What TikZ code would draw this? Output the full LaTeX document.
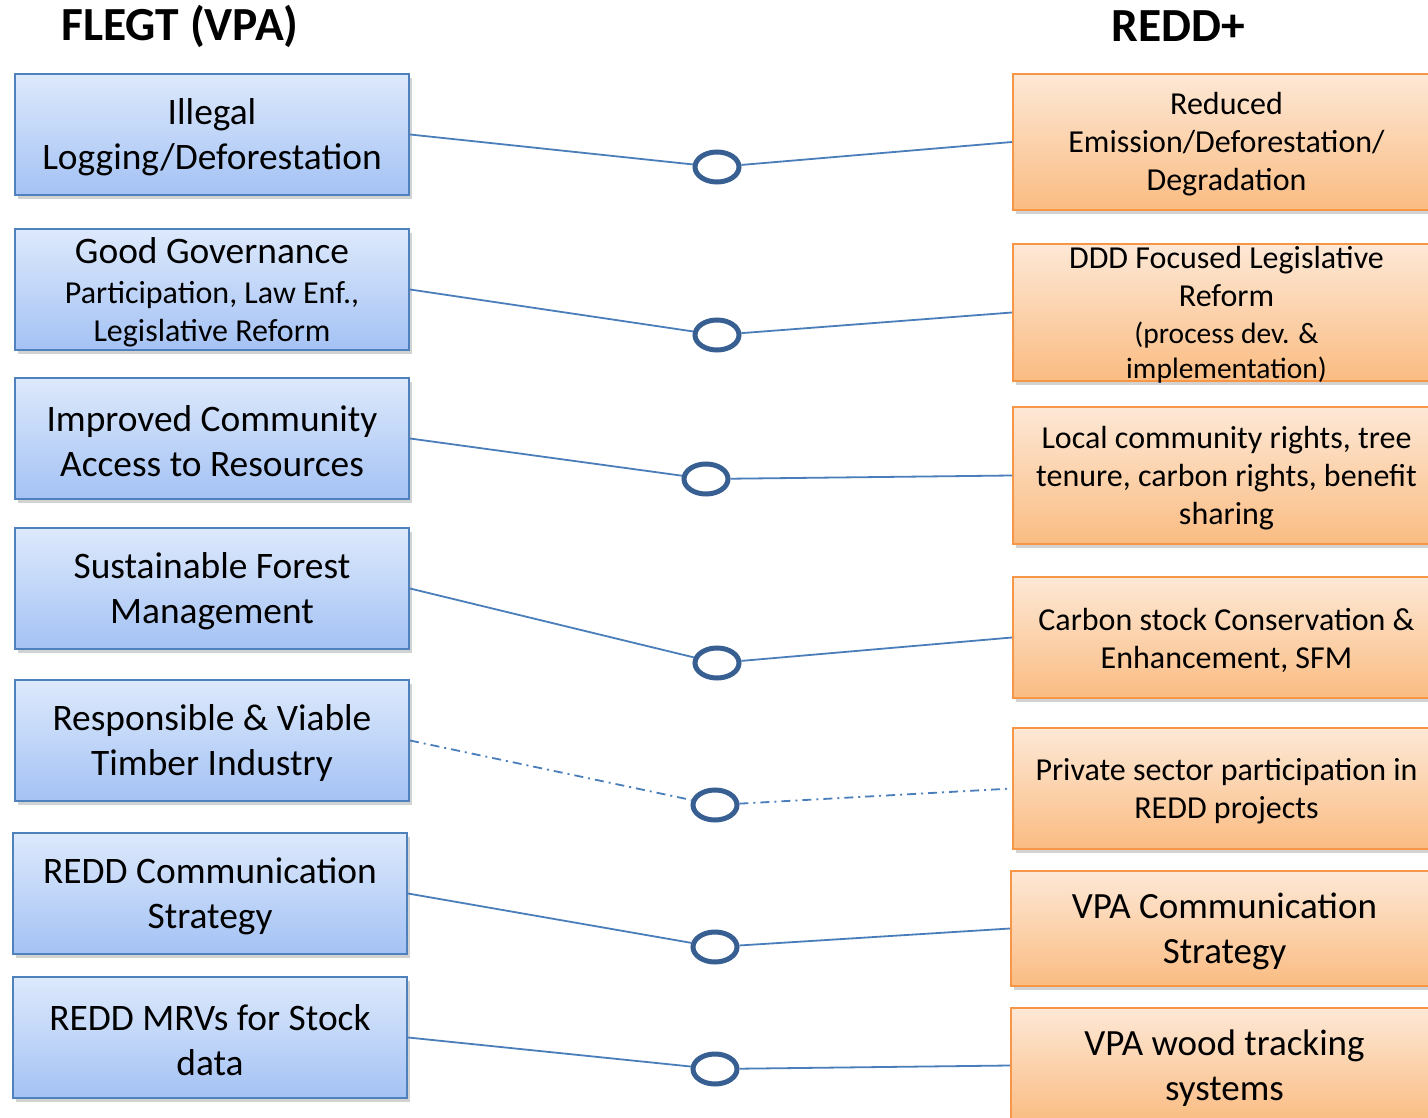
\documentclass[tikz,border=0pt]{standalone}
\usepackage{fontspec}
\setmainfont{Carlito}
\usetikzlibrary{shadows,shapes.geometric}
\definecolor{bluetop}{RGB}{221,233,252}
\definecolor{bluebot}{RGB}{164,194,244}
\definecolor{blueline}{RGB}{79,129,189}
\definecolor{orgtop}{RGB}{253,232,214}
\definecolor{orgbot}{RGB}{250,188,130}
\definecolor{orgline}{RGB}{247,150,70}
\definecolor{conn}{RGB}{74,126,187}
\definecolor{ringc}{RGB}{56,95,145}
\tikzset{
  box/.style={rectangle, anchor=north west, inner sep=0pt,
    line width=2pt, drop shadow={opacity=0.35, shadow xshift=3pt, shadow yshift=-4pt}},
  lbox/.style={box, draw=blueline, top color=bluetop, bottom color=bluebot,
    minimum width=394pt, minimum height=121pt},
  rbox/.style={box, draw=orgline, top color=orgtop, bottom color=orgbot,
    minimum width=427pt},
  ltxt/.style={align=center, inner sep=0pt, font=\fontsize{37.4}{45}\selectfont},
  rtxt/.style={align=center, inner sep=0pt, font=\fontsize{32}{38}\selectfont},
  rbig/.style={align=center, inner sep=0pt, font=\fontsize{37}{45}\selectfont},
  ring/.style={ellipse, draw=ringc, line width=5pt, fill=white, minimum width=44pt, minimum height=30pt, inner sep=0pt},
  conn/.style={draw=conn, line width=1.8pt},
  ttl/.style={font=\bfseries\fontsize{47.5}{52}\selectfont}
}
\begin{document}
\begin{tikzpicture}[x=1pt,y=-1pt]
\useasboundingbox (0,0) rectangle (1428,1118);
\fill[white] (0,0) rectangle (1428,1118);
\node[ttl] (t1) at (180,26) {FLEGT (VPA)};
\node[ttl] (t2) at (1178,26) {REDD+};
% left boxes
\node[lbox] (L1) at (14,73) {};
\node[lbox] (L2) at (14,228) {};
\node[lbox] (L3) at (14,377) {};
\node[lbox] (L4) at (14,527) {};
\node[lbox] (L5) at (14,679) {};
\node[lbox] (L6) at (12,832) {};
\node[lbox] (L7) at (12,976) {};
\node[ltxt] (L1t) at ([yshift=-3pt]L1.center) {Illegal\\Logging/Deforestation};
\node[ltxt] (L2t) at ([yshift=-3pt]L2.center) {\raisebox{-2pt}{Good Governance}\\[-3pt]{\fontsize{32}{38}\selectfont Participation, Law Enf.,}\\[-7pt]{\fontsize{32}{38}\selectfont Legislative Reform}};
\node[ltxt] (L3t) at ([yshift=-3pt]L3.center) {Improved Community\\Access to Resources};
\node[ltxt] (L4t) at ([yshift=-3pt]L4.center) {Sustainable Forest\\Management};
\node[ltxt] (L5t) at ([yshift=-3pt]L5.center) {Responsible \& Viable\\Timber Industry};
\node[ltxt] (L6t) at ([yshift=-3pt]L6.center) {REDD Communication\\Strategy};
\node[ltxt] (L7t) at ([yshift=-3pt]L7.center) {REDD MRVs for Stock\\data};
% right boxes
\node[rbox, minimum height=136pt] (R1) at (1012,73) {};
\node[rbox, minimum height=137pt] (R2) at (1012,243) {};
\node[rbox, minimum height=137pt] (R3) at (1012,406) {};
\node[rbox, minimum height=121pt] (R4) at (1012,576) {};
\node[rbox, minimum height=121pt] (R5) at (1012,727) {};
\node[rbox, minimum height=115pt] (R6) at (1010,870) {};
\node[rbox, minimum height=115pt] (R7) at (1010,1007) {};
\node[rtxt] (R1t) at ([yshift=-2.5pt]R1.center) {Reduced\\Emission/Deforestation/\\Degradation};
\node[rtxt] (R2t) at ([yshift=-2.5pt]R2.center) {DDD Focused Legislative\\Reform\\[-1pt]{\fontsize{29.5}{35}\selectfont (process dev. \&}\\[-3pt]{\fontsize{29.5}{35}\selectfont implementation)}};
\node[rtxt] (R3t) at ([yshift=-2.5pt]R3.center) {Local community rights, tree\\tenure, carbon rights, benefit\\sharing};
\node[rtxt] (R4t) at ([yshift=-2.5pt]R4.center) {Carbon stock Conservation \&\\Enhancement, SFM};
\node[rtxt] (R5t) at ([yshift=-2.5pt]R5.center) {Private sector participation in\\REDD projects};
\node[rbig] (R6t) at ([yshift=-2.5pt]R6.center) {VPA Communication\\Strategy};
\node[rbig] (R7t) at ([yshift=-2.5pt]R7.center) {VPA wood tracking\\systems};
% rings
\node[ring] (E1) at (717,167) {};
\node[ring] (E2) at (717,335) {};
\node[ring] (E3) at (706,479) {};
\node[ring] (E4) at (717,663) {};
\node[ring] (E5) at (715,805) {};
\node[ring] (E6) at (715,947) {};
\node[ring] (E7) at (715,1069) {};
% connectors
\foreach \i in {1,2,3,4,6,7}{
  \draw[conn] (L\i.east) -- (E\i);
  \draw[conn] (E\i) -- (R\i.west);
}
\draw[conn, dash pattern=on 9pt off 5pt on 2pt off 5pt] (L5.east) -- (E5);
\draw[conn, dash pattern=on 9pt off 5pt on 2pt off 5pt] (E5) -- (R5.west);
\end{tikzpicture}
\end{document}
